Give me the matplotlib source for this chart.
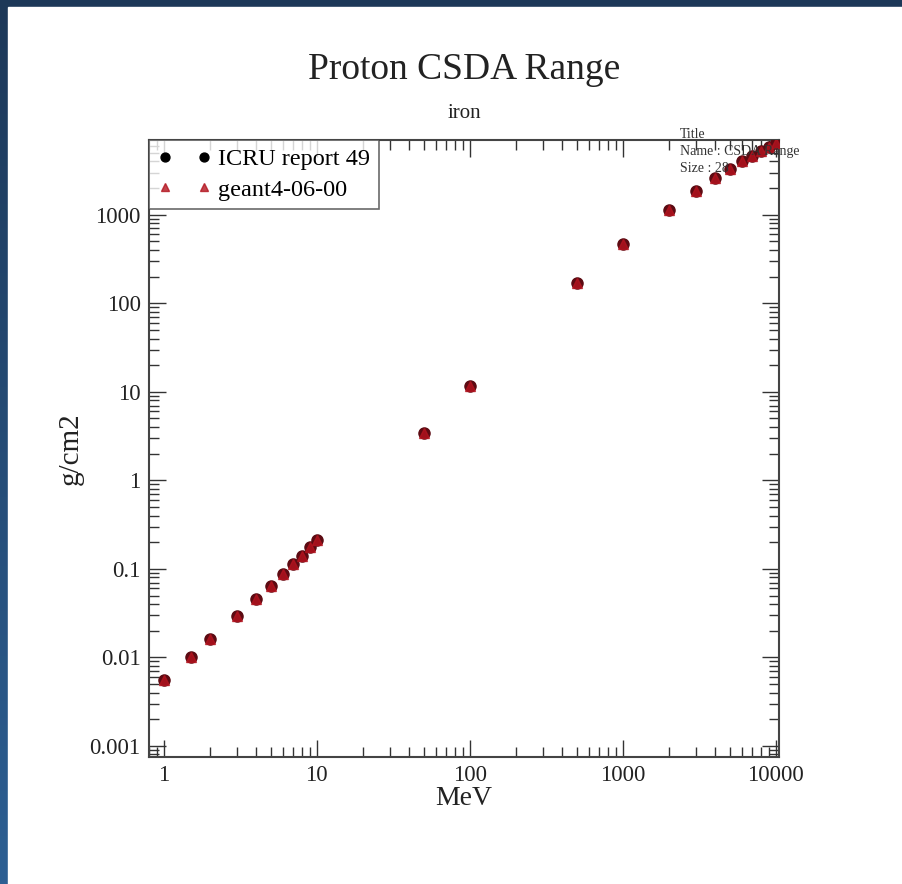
import numpy as np
import matplotlib
matplotlib.use("Agg")
import matplotlib.pyplot as plt
from matplotlib.patches import Rectangle
from matplotlib.ticker import LogLocator, NullFormatter, FixedLocator, FixedFormatter

plt.rcParams['font.family'] = ['Liberation Serif', 'DejaVu Serif']

# Дані: енергія протонів (МеВ) та пробіг CSDA у залізі (г/см2)
energy = [1, 1.5, 2, 3, 4, 5, 6, 7, 8, 9, 10, 50, 100, 500, 1000,
          2000, 3000, 4000, 5000, 6000, 7000, 8000, 9000, 10000]
icru_range = [0.0056, 0.0100, 0.0160, 0.0290, 0.0460, 0.0640, 0.0880, 0.114,
              0.140, 0.175, 0.210, 3.40, 11.6, 168, 465,
              1140, 1860, 2600, 3300, 4080, 4650, 5300, 5900, 6500]
geant_range = [0.0056, 0.0100, 0.0160, 0.0290, 0.0460, 0.0640, 0.0880, 0.114,
               0.140, 0.175, 0.210, 3.40, 11.6, 168, 465,
               1140, 1860, 2600, 3300, 4080, 4650, 5300, 5900, 6500]
x_ticks = [1, 10, 100, 1000, 10000]
x_tick_labels = ["1", "10", "100", "1000", "10000"]
y_ticks = [0.001, 0.01, 0.1, 1, 10, 100, 1000]
y_tick_labels = ["0.001", "0.01", "0.1", "1", "10", "100", "1000"]

fig = plt.figure(figsize=(9.03, 8.84), dpi=100)

# Фон: синій градієнт і біла панель
bg = fig.add_axes([0, 0, 1, 1])
grad = np.linspace(0, 1, 256).reshape(-1, 1)
cmap = matplotlib.colors.LinearSegmentedColormap.from_list("bg", ["#1d3858", "#2d5f93"])
bg.imshow(grad, aspect='auto', cmap=cmap, extent=[0, 1, 0, 1], origin='upper')
bg.add_patch(Rectangle((8 / 903, 0), 1, 1 - 7 / 884, color='white', zorder=2))
bg.set_xlim(0, 1)
bg.set_ylim(0, 1)
bg.axis('off')

ax = fig.add_axes([0.165, 0.1437, 0.6977, 0.698])
ax.set_xscale('log')
ax.set_yscale('log')
ax.plot(energy, icru_range, 'o', color='#5c0a12', markersize=8, label="ICRU report 49", zorder=3)
ax.plot(energy, geant_range, '^', color='#b3141f', markersize=6.5, alpha=0.8,
        label="geant4-06-00", zorder=4)
ax.set_xlim(0.8, 10500)
ax.set_ylim(0.00075, 7000)

ax.xaxis.set_major_locator(FixedLocator(x_ticks))
ax.xaxis.set_major_formatter(FixedFormatter(x_tick_labels))
ax.yaxis.set_major_locator(FixedLocator(y_ticks))
ax.yaxis.set_major_formatter(FixedFormatter(y_tick_labels))
ax.xaxis.set_minor_locator(LogLocator(base=10, subs=np.arange(2, 10)))
ax.yaxis.set_minor_locator(LogLocator(base=10, subs=np.arange(2, 10)))
ax.xaxis.set_minor_formatter(NullFormatter())
ax.yaxis.set_minor_formatter(NullFormatter())
ax.tick_params(which='both', direction='in', top=True, right=True, labelsize=16.5,
               color='#333333', labelcolor='#222222')
ax.tick_params(which='major', length=12, width=1, pad=6)
ax.tick_params(which='minor', length=7, width=1)
for s in ax.spines.values():
    s.set_color('#444444')
    s.set_linewidth(1.5)

ax.set_xlabel("MeV", fontsize=20, labelpad=0, color='#222222')
ax.set_ylabel("g/cm2", fontsize=21, labelpad=4, color='#222222')

leg = ax.legend(loc='upper left', numpoints=2, fontsize=17.5, frameon=True, fancybox=False,
                borderaxespad=0, handletextpad=0.3, borderpad=0.35, labelspacing=0.35,
                markerscale=0.8, handlelength=2.2)
leg.get_frame().set_edgecolor('#444444')
leg.get_frame().set_linewidth(1.2)
leg.legend_handles[0].set_color('black')

fig.text(0.514, 0.921, "Proton CSDA Range", ha='center', va='center', fontsize=27, color='#222222')
fig.text(0.514, 0.872, "iron", ha='center', va='center', fontsize=15, color='#222222')

# дрібні написи у правому верхньому куті
fig.text(0.753, 1 - 135 / 884, "Title", fontsize=10, va='center', color='#333333')
fig.text(0.753, 1 - 152 / 884, "Name : CSDA Range", fontsize=10, va='center', color='#333333')
fig.text(0.753, 1 - 169 / 884, "Size : 28", fontsize=10, va='center', color='#333333')

fig.savefig("out.png", dpi=100)
